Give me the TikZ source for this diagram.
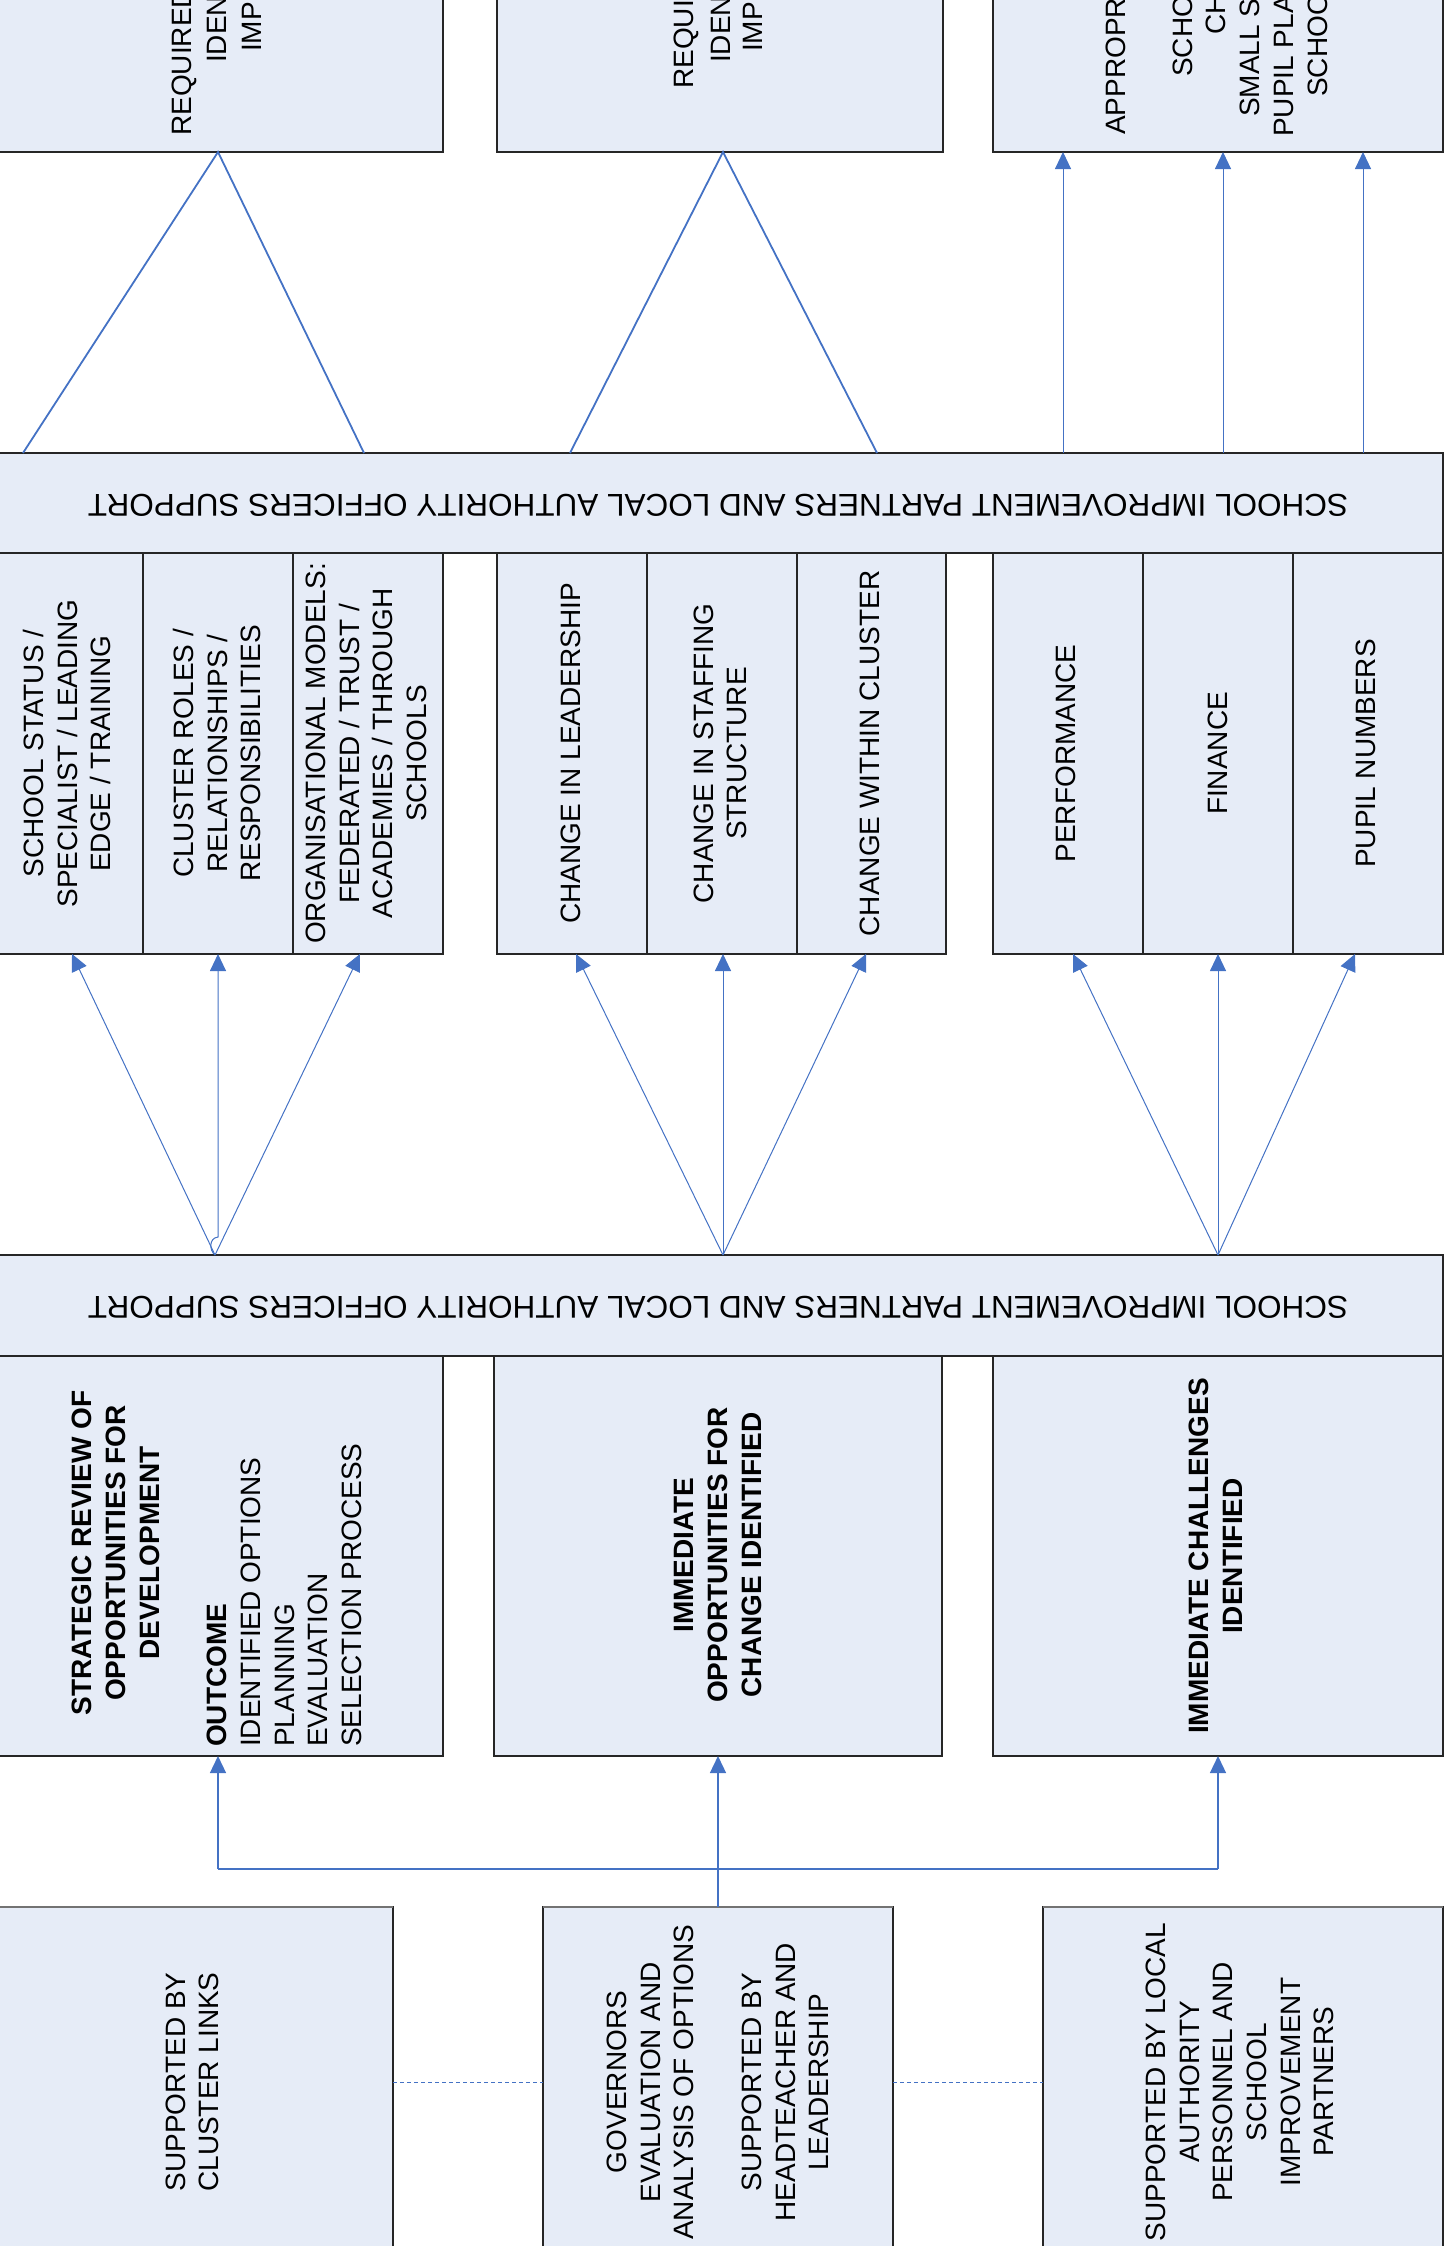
\documentclass[tikz,border=0pt]{standalone}
\usepackage{fontspec}
\setmainfont{Liberation Sans}
\usetikzlibrary{arrows.meta}
\definecolor{boxfill}{RGB}{230,236,247}
\definecolor{lblue}{RGB}{68,114,196}
\newcommand\tfont{\fontsize{28}{33.7}\selectfont}
\newcommand\bandfont{\fontsize{31.5}{36}\selectfont}
\begin{document}
\begin{tikzpicture}[x=1pt,y=-1pt,
  box/.style={draw=black!85, fill=boxfill, line width=1.2pt, inner sep=0pt, outer sep=0pt, anchor=north west},
  txt/.style={font=\tfont, align=center, inner sep=0pt, rotate=90},
  btxt/.style={font=\tfont\bfseries, align=center, inner sep=0pt, rotate=90},
  cut/.style={font=\tfont, inner sep=0pt, rotate=90, anchor=west},
  bandtxt/.style={font=\bandfont, inner sep=0pt, rotate=180},
  arr/.style={draw=lblue, line width=1pt, -{Triangle[length=17pt,width=16pt]}},
  arrb/.style={draw=lblue, line width=1.4pt, -{Triangle[length=17pt,width=16pt]}},
  lineb/.style={draw=lblue, line width=1.4pt},
  tri/.style={draw=lblue, line width=1.8pt},
  dashb/.style={draw=lblue, line width=1pt, dash pattern=on 4pt off 3pt}]
\useasboundingbox (0,0) rectangle (1444,2246);

% top row (cut off)
\node[box, minimum width=450pt, minimum height=402pt] (T1) at (-7,-250) {};
\node[box, minimum width=446pt, minimum height=402pt] (T2) at (497,-250) {};
\node[box, minimum width=450pt, minimum height=402pt] (T3) at (993,-250) {};
\node[cut] (t1a) at (184,136) {REQUIRED};
\node[cut] (t1b) at (217,63) {IDEN};
\node[cut] (t1c) at (251.5,52) {IMP};
\node[cut] (t2a) at (686,89) {REQUI};
\node[cut] (t2b) at (720.5,63) {IDEN};
\node[cut] (t2c) at (752.5,52) {IMP};
\node[cut] (t3a) at (1115.5,135) {APPROPR};
\node[cut] (t3b) at (1183,77) {SCHO};
\node[cut] (t3c) at (1216,35) {CH};
\node[cut] (t3d) at (1250,117) {SMALL S};
\node[cut] (t3e) at (1284,137) {PUPIL PLA};
\node[cut] (t3f) at (1318,97) {SCHOO};

% band 1
\node[box, minimum width=1450pt, minimum height=100pt] (band1) at (-7,453) {};
\node[bandtxt] (band1t) at (718,505) {SCHOOL IMPROVEMENT PARTNERS AND LOCAL AUTHORITY OFFICERS SUPPORT};

% middle cells
\node[box, minimum width=150pt, minimum height=401pt] (c11) at (-7,553) {};
\node[box, minimum width=150pt, minimum height=401pt] (c12) at (143,553) {};
\node[box, minimum width=150pt, minimum height=401pt] (c13) at (293,553) {};
\node[box, minimum width=150pt, minimum height=401pt] (c21) at (497,553) {};
\node[box, minimum width=150pt, minimum height=401pt] (c22) at (647,553) {};
\node[box, minimum width=149pt, minimum height=401pt] (c23) at (797,553) {};
\node[box, minimum width=150pt, minimum height=401pt] (c31) at (993,553) {};
\node[box, minimum width=150pt, minimum height=401pt] (c32) at (1143,553) {};
\node[box, minimum width=150pt, minimum height=401pt] (c33) at (1293,553) {};
\node[txt] (c11t) at (67,753.5) {SCHOOL STATUS /\\SPECIALIST / LEADING\\EDGE / TRAINING};
\node[txt] (c12t) at (217,753.5) {CLUSTER ROLES /\\RELATIONSHIPS /\\RESPONSIBILITIES};
\node[txt] (c13t) at (366.5,753.5) {ORGANISATIONAL MODELS:\\FEDERATED / TRUST /\\ACADEMIES / THROUGH\\SCHOOLS};
\node[txt] (c21t) at (571,753.5) {CHANGE IN LEADERSHIP};
\node[txt] (c22t) at (720.5,753.5) {CHANGE IN STAFFING\\STRUCTURE};
\node[txt] (c23t) at (870,753.5) {CHANGE WITHIN CLUSTER};
\node[txt] (c31t) at (1066,753.5) {PERFORMANCE};
\node[txt] (c32t) at (1218,753.5) {FINANCE};
\node[txt] (c33t) at (1366,753.5) {PUPIL NUMBERS};

% band 2
\node[box, minimum width=1450pt, minimum height=101pt] (band2) at (-7,1255) {};
\node[bandtxt] (band2t) at (718,1307) {SCHOOL IMPROVEMENT PARTNERS AND LOCAL AUTHORITY OFFICERS SUPPORT};

% row B
\node[box, minimum width=450pt, minimum height=400pt] (RA) at (-7,1356) {};
\node[box, minimum width=448pt, minimum height=400pt] (RB) at (494,1356) {};
\node[box, minimum width=450pt, minimum height=400pt] (RC) at (993,1356) {};
\node[btxt] (RAt) at (116,1553) {STRATEGIC REVIEW OF\\OPPORTUNITIES FOR\\DEVELOPMENT};
\node[txt, align=left, anchor=west] (RAo) at (284.5,1747) {\textbf{OUTCOME}\\IDENTIFIED OPTIONS\\PLANNING\\EVALUATION\\SELECTION PROCESS};
\node[btxt] (RBt) at (718,1555) {IMMEDIATE\\OPPORTUNITIES FOR\\CHANGE IDENTIFIED};
\node[btxt] (RCt) at (1216,1556) {IMMEDIATE CHALLENGES\\IDENTIFIED};

% bottom row
\node[box, minimum width=400pt, minimum height=350pt] (B1) at (-7,1907) {};
\node[box, minimum width=350pt, minimum height=350pt] (B2) at (543,1907) {};
\node[box, minimum width=400pt, minimum height=350pt] (B3) at (1043,1907) {};
\draw[black!55, line width=2pt] (B1.north west) -- (B1.north east);
\draw[black!55, line width=2pt] (B2.north west) -- (B2.north east);
\draw[black!55, line width=2pt] (B3.north west) -- (B3.north east);
\node[txt] (B1t) at (192.5,2082) {SUPPORTED BY\\CLUSTER LINKS};
\node[txt] (B2t) at (718,2082) {GOVERNORS\\EVALUATION AND\\ANALYSIS OF OPTIONS\\[33.7pt]SUPPORTED BY\\HEADTEACHER AND\\LEADERSHIP};
\node[txt] (B3t) at (1240,2082) {SUPPORTED BY LOCAL\\AUTHORITY\\PERSONNEL AND\\SCHOOL\\IMPROVEMENT\\PARTNERS};

% triangles from band 1 to top boxes
\draw[tri] ([xshift=30pt]band1.north west) -- (T1.south) -- ([xshift=371pt]band1.north west);
\draw[tri] ([xshift=577pt]band1.north west) -- ([xshift=3pt]T2.south) -- ([xshift=884pt]band1.north west);

% arrows band 1 -> top right box
\coordinate (u1) at ([xshift=-155pt]T3.south);
\coordinate (u2) at ([xshift=5pt]T3.south);
\coordinate (u3) at ([xshift=145pt]T3.south);
\draw[arr] (u1 |- band1.north) -- (u1);
\draw[arr] (u2 |- band1.north) -- (u2);
\draw[arr] (u3 |- band1.north) -- (u3);

% arrows band 2 -> cells
\coordinate (s1) at (215,1255);
\coordinate (s2) at (723,1255);
\coordinate (s3) at (1218,1255);
\coordinate (k1) at (218,1237);
\draw[arr] (s1) -- ([xshift=4pt]c11.south);
\draw[arr] (s1) .. controls (209,1250) and (209,1238) .. (k1) -- (c12.south);
\draw[arr] (s1) -- ([xshift=-8pt]c13.south);
\draw[arr] (s2) -- ([xshift=4pt]c21.south);
\draw[arr] (s2) -- ([xshift=1pt]c22.south);
\draw[arr] (s2) -- ([xshift=-5.5pt]c23.south);
\draw[arr] (s3) -- ([xshift=5pt]c31.south);
\draw[arr] (s3) -- (c32.south);
\draw[arr] (s3) -- ([xshift=-13pt]c33.south);

% bottom connectors
\coordinate (j) at (0,1869);
\draw[arrb] (B2.north) -- (RB.south);
\draw[lineb] (RA.south |- j) -- (RC.south |- j);
\draw[arrb] (RA.south |- j) -- (RA.south);
\draw[arrb] (RC.south |- j) -- (RC.south);
\draw[dashb] (B1.east) -- (B2.west);
\draw[dashb] (B2.east) -- (B3.west);
\end{tikzpicture}
\end{document}
